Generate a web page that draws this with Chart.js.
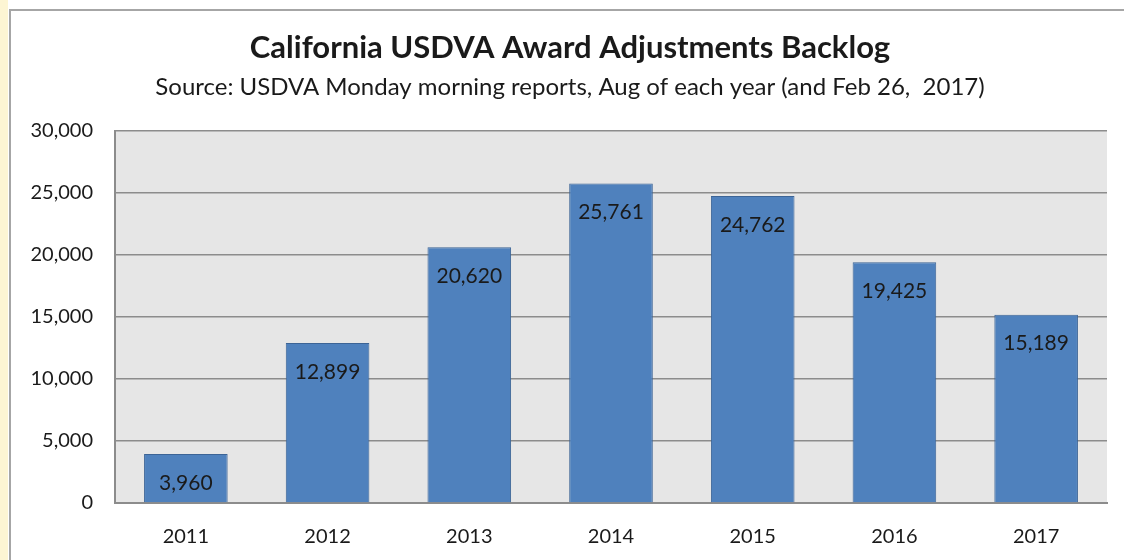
<!DOCTYPE html>
<html>
<head>
<meta charset="utf-8">
<script src="https://cdn.jsdelivr.net/npm/chart.js@4"></script>
<style>
    body { margin: 0; background: #fff; }
    #strip { position: absolute; left: 0; top: 0; width: 8px; height: 560px; background: #fdf5d3; }
    #frame { position: absolute; left: 9px; top: 9px; width: 1115px; height: 551px; border-left: 2px solid #a6a6a6; border-top: 2px solid #a6a6a6; }
    #chartWrapper { position: absolute; left: 0; top: 0; width: 1124px; height: 560px; }
</style>
</head>
<body>
<div id="strip"></div>
<div id="frame"></div>
<div id="chartWrapper"><canvas id="barA"></canvas></div>
<script>
let years = ['2011', '2012', '2013', '2014', '2015', '2016', '2017'];
let backlog = [3960, 12899, 20620, 25761, 24762, 19425, 15189];
let yTicks = [0, 5000, 10000, 15000, 20000, 25000, 30000];

let titleText = 'California USDVA Award Adjustments Backlog';
let subtitleText = 'Source: USDVA Monday morning reports, Aug of each year (and Feb 26,  2017)';

let fontFamily = 'Lato, "Open Sans", sans-serif';
let textColor = '#1a1a1a';

// 灰色繪圖區背景
let plotBg = {
    id: 'plotBg',
    beforeDraw(chart) {
        let a = chart.chartArea;
        let ctx = chart.ctx;
        ctx.save();
        ctx.fillStyle = '#e6e6e6';
        ctx.fillRect(a.left, a.top, a.right - a.left, a.bottom - a.top);
        ctx.restore();
    }
}
// 柱內數值標籤
let barLabels = {
    id: 'barLabels',
    afterDatasetsDraw(chart) {
        let ctx = chart.ctx;
        let meta = chart.getDatasetMeta(0);
        ctx.save();
        ctx.fillStyle = textColor;
        ctx.font = '21px ' + fontFamily;
        ctx.textAlign = 'center';
        ctx.textBaseline = 'middle';
        meta.data.forEach((bar, i) => {
            ctx.fillText(backlog[i].toLocaleString('en-US'), bar.x, bar.y + 29);
        });
        ctx.restore();
    }
}
// 標題置中於整個圖框 (不是 canvas)
let titles = {
    id: 'titles',
    afterDraw(chart) {
        let ctx = chart.ctx;
        ctx.save();
        ctx.fillStyle = textColor;
        ctx.textAlign = 'center';
        ctx.textBaseline = 'middle';
        ctx.font = 'bold 31px ' + fontFamily;
        ctx.fillText(titleText, 570, 48);
        ctx.font = '24px ' + fontFamily;
        ctx.fillText(subtitleText, 570, 87);
        ctx.restore();
    }
}

new Chart(document.getElementById('barA'), {
    type: 'bar',
    data: {
        labels: years,
        datasets: [{
            data: backlog,
            backgroundColor: '#4f81bd',
            borderColor: '#3c6496',
            borderWidth: 1,
            categoryPercentage: 1,
            barPercentage: 0.59,
        }]
    },
    options: {
        responsive: true,
        maintainAspectRatio: false,
        animation: false,
        layout: {
            padding: { left: 0, right: 17, top: 131, bottom: 13 }
        },
        plugins: {
            legend: { display: false },
            tooltip: { enabled: false },
            title: { display: false }
        },
        scales: {
            x: {
                afterFit(scale) { scale.height = 44; },
                grid: { display: false, drawTicks: false },
                border: { color: '#8c8c8c', width: 2 },
                ticks: { color: textColor, font: { family: fontFamily, size: 20 }, padding: 22 }
            },
            y: {
                min: 0,
                max: 30000,
                afterFit(scale) { scale.width = 115; },
                afterBuildTicks(scale) { scale.ticks = yTicks.map(v => ({ value: v })); },
                grid: { color: '#8c8c8c', lineWidth: 1.5, drawTicks: false },
                border: { color: '#8c8c8c', width: 2 },
                ticks: {
                    color: textColor,
                    font: { family: fontFamily, size: 20 },
                    padding: 22,
                    callback: v => v.toLocaleString('en-US')
                }
            }
        }
    },
    plugins: [plotBg, barLabels, titles]
});
</script>
</body>
</html>
